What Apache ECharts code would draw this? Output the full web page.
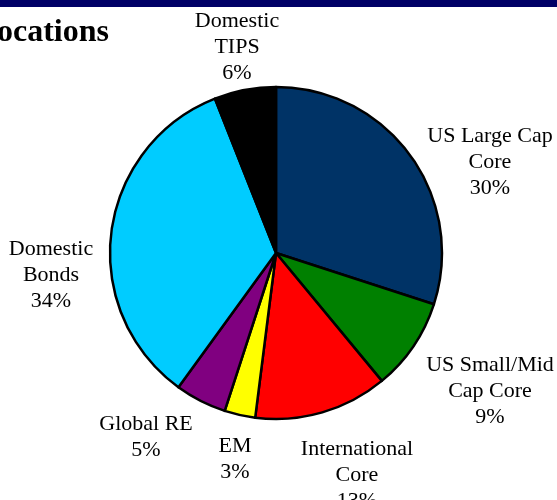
<!DOCTYPE html>
<html>
<head>
<meta charset="utf-8">
<script src="https://cdn.jsdelivr.net/npm/echarts@6/dist/echarts.min.js"></script>
<style>
html,body{margin:0;padding:0;background:#fff;}
#c{width:557px;height:500px;}
</style>
</head>
<body>
<div id="c"></div>
<script>
var categories = ["US Large Cap\nCore", "US Small/Mid\nCap Core", "International\nCore", "EM", "Global RE", "Domestic\nBonds", "Domestic\nTIPS"];
var values = [30, 9, 13, 3, 5, 34, 6];
var colors = ["#003366", "#008000", "#FF0000", "#FFFF00", "#800080", "#00CCFF", "#000000"];
var labelPos = [[490, 162], [490, 391], [357, 475], [235, 459], [146, 437], [51, 275], [237, 47]];

var chart = echarts.init(document.getElementById('c'), null, {renderer: 'canvas'});
chart.setOption({
  animation: false,
  backgroundColor: '#ffffff',
  graphic: [
    {type: 'rect', shape: {x: 0, y: 0, width: 557, height: 7}, style: {fill: '#000066'}},
    {type: 'text', x: 109, y: 33, style: {text: 'Allocations', font: 'bold 32px "Liberation Serif", serif', fill: '#000', align: 'right', verticalAlign: 'middle'}}
  ],
  series: [{
    type: 'pie',
    center: [276, 253],
    radius: 166,
    startAngle: 90,
    clockwise: true,
    data: categories.map(function (c, i) {
      return {name: c, value: values[i], itemStyle: {color: colors[i]}};
    }),
    itemStyle: {borderColor: '#000', borderWidth: 2.5},
    label: {
      show: true,
      position: 'outside',
      formatter: function (p) { return p.name + '\n' + p.value + '%'; },
      fontFamily: '"Liberation Serif", serif',
      fontSize: 22,
      lineHeight: 26,
      color: '#000',
      align: 'center',
      overflow: 'none',
      width: 200
    },
    labelLine: {show: false},
    labelLayout: function (params) {
      var p = labelPos[params.dataIndex];
      return {x: p[0], y: p[1], align: 'center', verticalAlign: 'middle'};
    },
    emphasis: {disabled: true}
  }]
});
</script>
</body>
</html>
